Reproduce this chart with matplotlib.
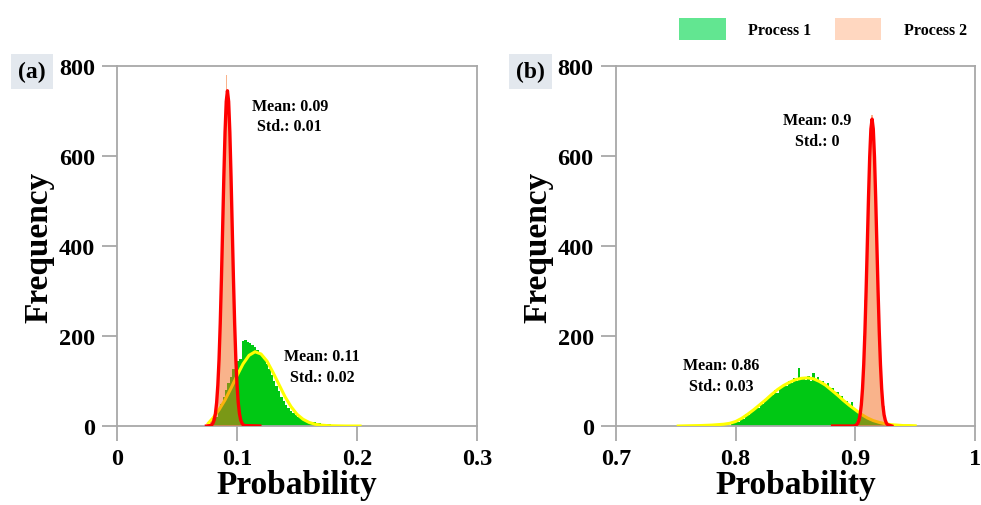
import matplotlib.pyplot as plt
import numpy as np
from matplotlib.patches import Patch

plt.rcParams["font.family"] = ["Liberation Serif", "DejaVu Serif"]
plt.rcParams["font.weight"] = "bold"

# ---- panel (a): probability of process A ----------------------------------
A_P1_BINS = [round(0.079 + 0.002 * i, 3) for i in range(61)]
A_P1_COUNTS = [
    3, 9, 20, 33, 48, 64, 80, 96, 110, 126, 138, 145,
    150, 188, 192, 186, 184, 180, 176, 170, 163, 156, 148, 137,
    126, 114, 101, 89, 77, 65, 56, 46, 39, 33, 28, 24,
    21, 18, 16, 14, 12, 10, 9, 8, 7, 6, 5, 5,
    4, 4, 3, 3, 3, 2, 2, 2, 1, 1, 1, 1,
    1,
]
A_P2_BINS = [round(0.077 + 0.001 * i, 3) for i in range(28)]
A_P2_COUNTS = [
    4, 8, 12, 18, 25, 35, 55, 85, 130, 200, 300, 410, 530, 640,
    780, 740, 700, 630, 530, 420, 310, 215, 140, 85, 50, 28, 14, 6,
]
A_P1_FIT_X = [0.076, 0.080, 0.085, 0.090, 0.095, 0.100, 0.105, 0.110, 0.115,
              0.120, 0.125, 0.130, 0.135, 0.140, 0.145, 0.150, 0.155, 0.160,
              0.165, 0.170, 0.175, 0.180, 0.190, 0.2025]
A_P1_FIT_Y = [6, 18, 36, 58, 84, 112, 138, 157, 165,
              160, 144, 119, 92, 65, 43, 26, 15, 8,
              4, 2, 1, 0.5, 0, 0]
A_P2_FIT_X = [0.0745, 0.078, 0.079, 0.080, 0.081, 0.082, 0.083, 0.084, 0.085,
              0.086, 0.087, 0.088, 0.089, 0.090, 0.091, 0.092, 0.093, 0.094,
              0.095, 0.096, 0.097, 0.098, 0.099, 0.100, 0.101, 0.102, 0.103,
              0.104, 0.105, 0.106, 0.119]
A_P2_FIT_Y = [0, 1, 3, 7, 14, 28, 52, 91, 148,
              228, 328, 440, 554, 653, 721, 745, 721, 653,
              554, 440, 328, 228, 148, 91, 52, 28, 14,
              7, 3, 1, 0]
A_NOTES = [(0.144, 689, "Mean: 0.09\nStd.: 0.01"), (0.171, 132, "Mean: 0.11\nStd.: 0.02")]

# ---- panel (b): probability of process B ----------------------------------
B_P1_BINS = [round(0.797 + 0.002 * i, 3) for i in range(67)]
B_P1_COUNTS = [
    5, 8, 12, 10, 18, 15, 26, 24, 34, 37, 42, 39,
    52, 49, 60, 63, 70, 68, 80, 74, 86, 90, 93, 88,
    101, 95, 106, 100, 130, 104, 110, 103, 112, 100, 118, 99,
    108, 97, 99, 88, 95, 80, 84, 72, 75, 63, 66, 54,
    55, 45, 53, 39, 34, 31, 27, 23, 20, 17, 15, 12,
    10, 9, 7, 6, 4, 3, 2,
]
B_P2_BINS = [round(0.901 + 0.001 * i, 3) for i in range(27)]
B_P2_COUNTS = [
    8, 15, 28, 50, 85, 135, 200, 280, 370, 460, 550, 625, 675, 690,
    670, 610, 530, 440, 345, 255, 180, 120, 75, 45, 25, 12, 5,
]
B_P1_FIT_X = [0.752, 0.760, 0.770, 0.780, 0.785, 0.790, 0.795, 0.800, 0.805,
              0.810, 0.815, 0.820, 0.825, 0.830, 0.835, 0.840, 0.845, 0.850,
              0.855, 0.860, 0.865, 0.870, 0.875, 0.880, 0.885, 0.890, 0.895,
              0.900, 0.905, 0.910, 0.915, 0.920, 0.925, 0.930, 0.935, 0.940,
              0.945, 0.950]
B_P1_FIT_Y = [0, 0.5, 1, 2, 3, 4, 6, 10, 17,
              26, 36, 47, 58, 70, 81, 90, 97, 103,
              106, 107, 105, 99, 91, 80, 69, 57, 46,
              36, 26, 18, 12, 8, 5, 3, 2, 1,
              1, 0.5]
B_P2_FIT_X = [0.881, 0.899, 0.900, 0.901, 0.902, 0.903, 0.904, 0.905, 0.906,
              0.907, 0.908, 0.909, 0.910, 0.911, 0.912, 0.913, 0.914, 0.915,
              0.916, 0.917, 0.918, 0.919, 0.920, 0.921, 0.922, 0.923, 0.924,
              0.925, 0.926, 0.927, 0.9305]
B_P2_FIT_Y = [0, 0, 1, 3, 6, 13, 25, 47, 83,
              136, 209, 300, 403, 507, 598, 660, 682, 660,
              598, 507, 403, 300, 209, 136, 83, 47, 25,
              13, 6, 3, 0]
B_NOTES = [(0.868, 656, "Mean: 0.9\nStd.: 0"), (0.788, 113, "Mean: 0.86\nStd.: 0.03")]

Y_TICKS = [0, 200, 400, 600, 800]
A_XTICKS = [0, 0.1, 0.2, 0.3]
A_XLABELS = ["0", "0.1", "0.2", "0.3"]
B_XTICKS = [0.7, 0.8, 0.9, 1.0]
B_XLABELS = ["0.7", "0.8", "0.9", "1"]

GREEN = "#00c814"
ORANGE = "#f56919"
SPINE = "#a8a8a8"


def draw_panel(ax, p1_bins, p1_counts, p2_bins, p2_counts,
               p1_fit, p2_fit, notes, xticks, xlabels, tag):
    w1 = np.diff(p1_bins).mean()
    w2 = np.diff(p2_bins).mean()
    ax.bar(p1_bins, p1_counts, width=w1, color=GREEN, linewidth=0, zorder=2)
    ax.plot(*p1_fit, color="#ffff00", lw=2.2, zorder=3)
    ax.bar(p2_bins, p2_counts, width=w2, color=ORANGE, alpha=0.5, linewidth=0, zorder=4)
    ax.plot(*p2_fit, color="#ff0000", lw=2.4, zorder=5)

    for x, y, txt in notes:
        ax.text(x, y, txt, ha="center", va="center", fontsize=11.5, fontweight="bold",
                linespacing=1.4, zorder=6)

    ax.set_xlim(xticks[0], xticks[-1])
    ax.set_ylim(0, 800)
    ax.set_xticks(xticks, xlabels)
    ax.set_yticks(Y_TICKS)
    ax.tick_params(direction="out", length=11, width=1.3, color=SPINE,
                   labelsize=17.5, pad=5)
    for lab in ax.get_xticklabels() + ax.get_yticklabels():
        lab.set_fontweight("bold")
    for sp in ax.spines.values():
        sp.set_color(SPINE)
        sp.set_linewidth(1.3)
    ax.set_xlabel("Probability", fontsize=24, fontweight="bold", labelpad=0)
    ax.set_ylabel("Frequency", fontsize=24, fontweight="bold", labelpad=3)

    ax.text(-0.237, 0.985, tag, transform=ax.transAxes, ha="center", va="center",
            fontsize=17, fontweight="bold",
            bbox=dict(boxstyle="square,pad=0.3", facecolor="#e3e8ee", edgecolor="none"))


fig = plt.figure(figsize=(9.81, 5.06), dpi=100)
ax_a = fig.add_axes([0.1193, 0.1561, 0.3670, 0.7115])
ax_b = fig.add_axes([0.6279, 0.1561, 0.3660, 0.7115])

draw_panel(ax_a, A_P1_BINS, A_P1_COUNTS, A_P2_BINS, A_P2_COUNTS,
           (A_P1_FIT_X, A_P1_FIT_Y), (A_P2_FIT_X, A_P2_FIT_Y), A_NOTES,
           A_XTICKS, A_XLABELS, "(a)")
draw_panel(ax_b, B_P1_BINS, B_P1_COUNTS, B_P2_BINS, B_P2_COUNTS,
           (B_P1_FIT_X, B_P1_FIT_Y), (B_P2_FIT_X, B_P2_FIT_Y), B_NOTES,
           B_XTICKS, B_XLABELS, "(b)")

handles = [Patch(facecolor="#62e691", edgecolor="none", label="Process 1"),
           Patch(facecolor="#ffd7c0", edgecolor="none", label="Process 2")]
fig.legend(handles=handles, loc="upper right", bbox_to_anchor=(0.997, 0.985),
           ncol=2, frameon=False, prop={"size": 11.5, "weight": "bold"},
           handlelength=2.9, handleheight=1.8, handletextpad=1.4,
           columnspacing=1.5, borderpad=0.2)

fig.savefig("out.png", dpi=100)
